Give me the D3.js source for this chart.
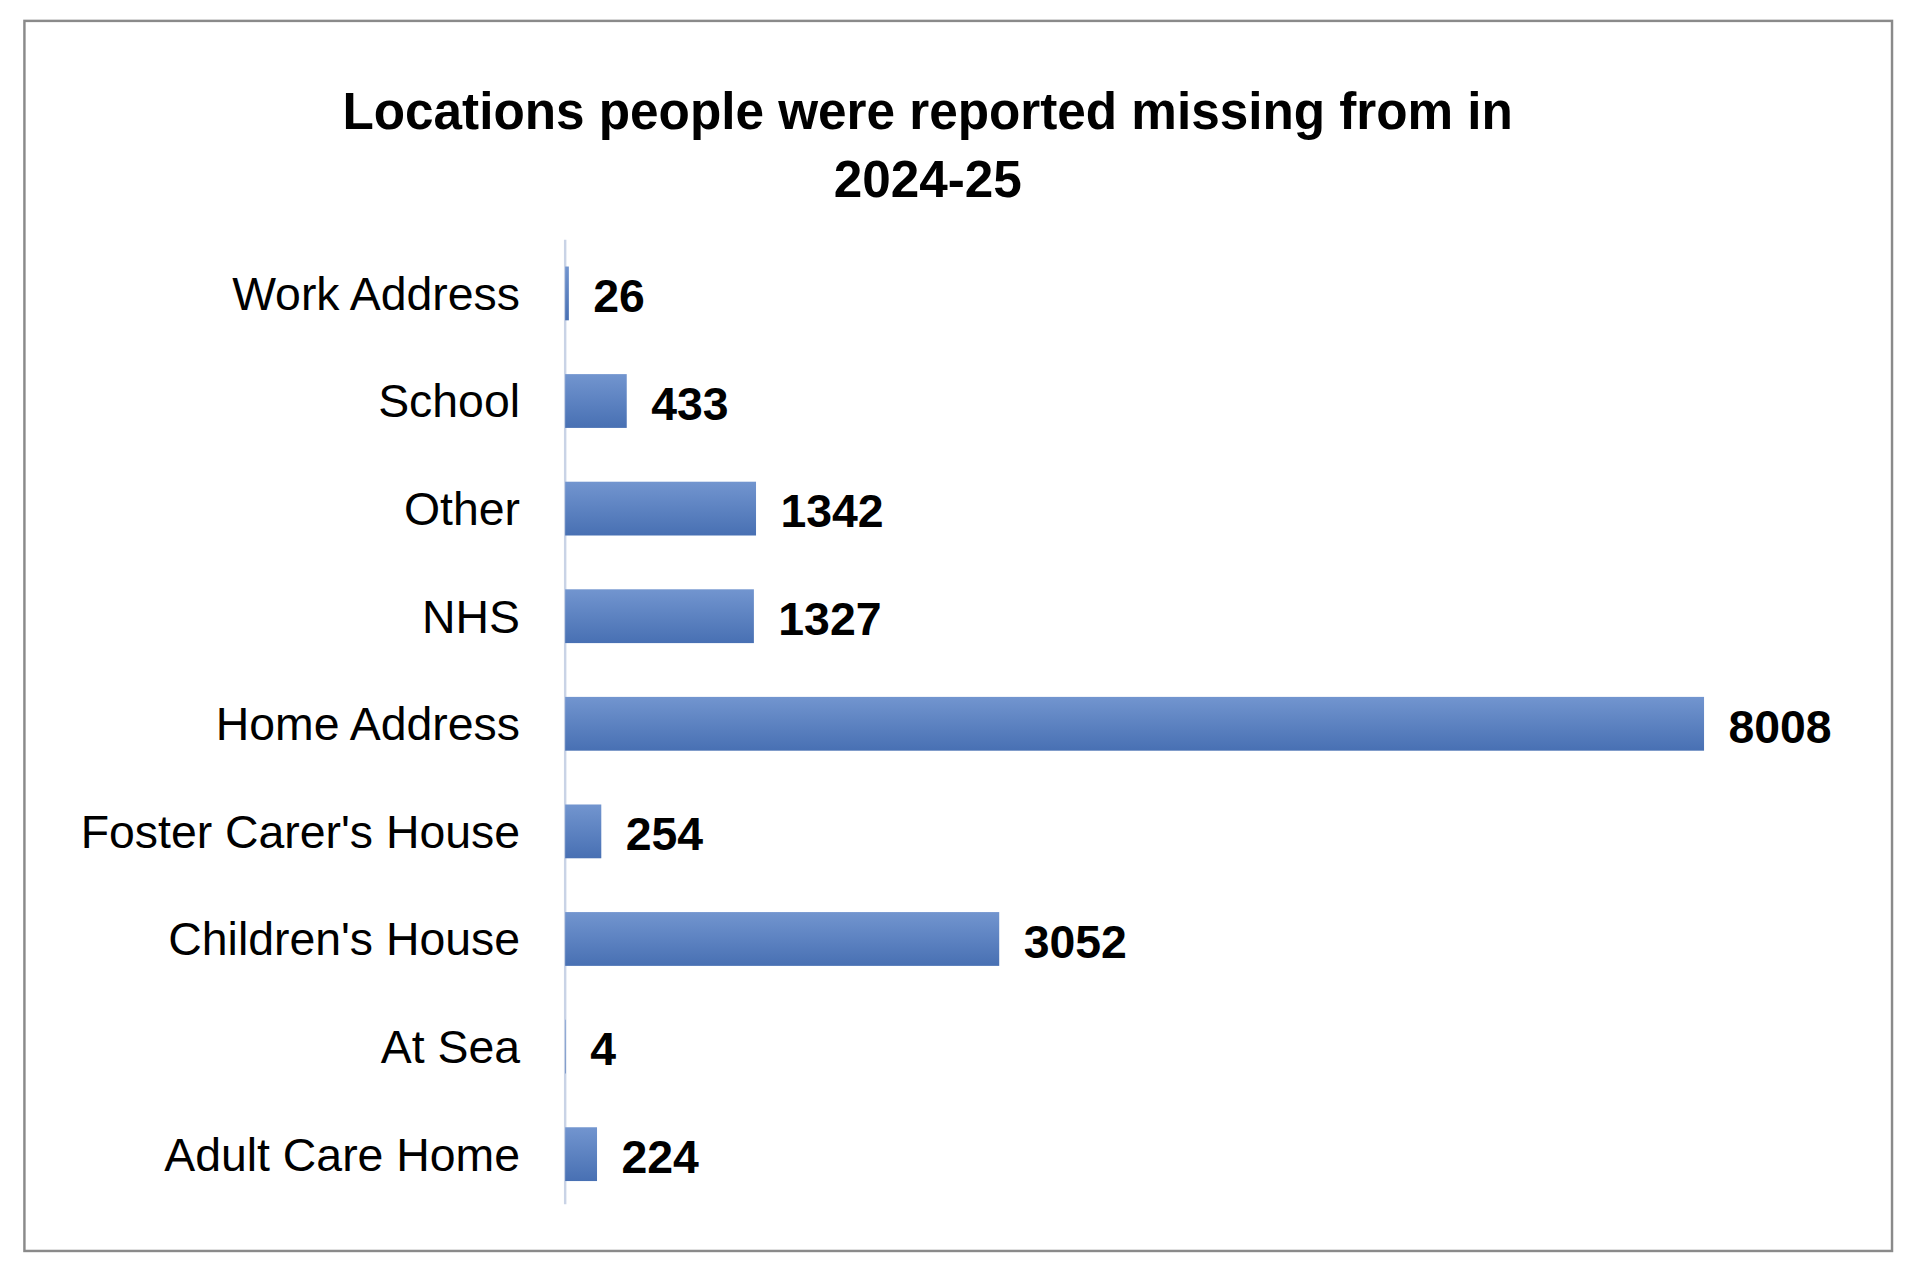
<!DOCTYPE html>
<html><head><meta charset="utf-8">
<script src="https://cdn.jsdelivr.net/npm/d3@7"></script>
<style>html,body{margin:0;padding:0;background:#fff}svg{display:block}</style>
</head><body>
<script>
var categories = ["Work Address","School","Other","NHS","Home Address","Foster Carer's House","Children's House","At Sea","Adult Care Home"];
var values = [26,433,1342,1327,8008,254,3052,4,224];

var W = 1568, H = 1040;
var svg = d3.select("body").append("svg")
  .attr("width", 1914).attr("height", 1278)
  .attr("viewBox", "0 0 " + W + " " + H)
  .attr("preserveAspectRatio", "none");

var defs = svg.append("defs");
var grad = defs.append("linearGradient").attr("id","bar").attr("x1",0).attr("y1",0).attr("x2",0).attr("y2",1);
grad.append("stop").attr("offset","0%").attr("stop-color","#7295cf");
grad.append("stop").attr("offset","100%").attr("stop-color","#4870b3");

svg.append("rect").attr("x",20).attr("y",17).attr("width",1530).attr("height",1001)
  .attr("fill","#fff").attr("stroke","#8a8a8a").attr("stroke-width",2);

var title = svg.append("text").attr("text-anchor","middle")
  .attr("font-family","Liberation Sans, Arial, sans-serif").attr("font-weight","bold")
  .attr("font-size",42).attr("fill","#000");
title.append("tspan").attr("x",760).attr("y",105).text("Locations people were reported missing from in");
title.append("tspan").attr("x",760).attr("y",160).text("2024-25");

var x0 = 463;
var x = d3.scaleLinear().domain([0, 8008]).range([x0, 1396]);
var y = d3.scaleBand().domain(categories).range([195, 983]).paddingInner(0.5).paddingOuter(0.25);

svg.append("line").attr("x1",x0).attr("x2",x0).attr("y1",195).attr("y2",980)
  .attr("stroke","#c9d3e6").attr("stroke-width",2);

svg.selectAll("rect.bar").data(values).enter().append("rect").attr("class","bar")
  .attr("x", x0).attr("y", function(d,i){ return y(categories[i]); })
  .attr("width", function(d){ return x(d) - x0; })
  .attr("height", y.bandwidth()).attr("fill","url(#bar)");

svg.selectAll("text.cat").data(categories).enter().append("text").attr("class","cat")
  .attr("x", 426).attr("y", function(d){ return y(d) + y.bandwidth()/2; })
  .attr("dy","0.35em").attr("text-anchor","end")
  .attr("font-family","Liberation Sans, Arial, sans-serif").attr("font-size",38)
  .attr("fill","#000").text(function(d){ return d; });

svg.selectAll("text.val").data(values).enter().append("text").attr("class","val")
  .attr("x", function(d){ return x(d) + 20; })
  .attr("y", function(d,i){ return y(categories[i]) + y.bandwidth()/2 + 2; })
  .attr("dy","0.35em")
  .attr("font-family","Liberation Sans, Arial, sans-serif").attr("font-weight","bold")
  .attr("font-size",38).attr("fill","#000").text(function(d){ return d; });
</script>
</body></html>
